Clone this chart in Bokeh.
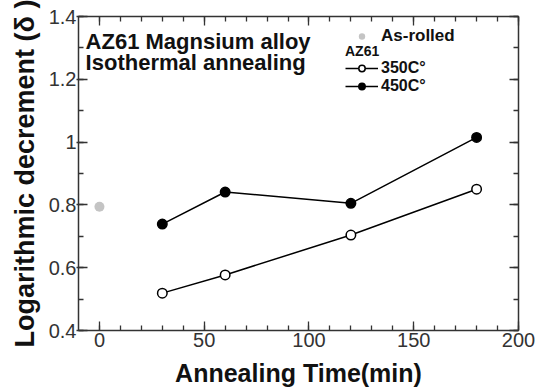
from bokeh.plotting import figure
from bokeh.models import (Range1d, LinearAxis, FixedTicker, NumeralTickFormatter,
                          Legend, LegendItem, Label, CustomLabelingPolicy)
from bokeh.embed import file_html
from bokeh.resources import INLINE

# ---- data ----
time_350 = [30, 60, 120, 180]
delta_350 = [0.519, 0.577, 0.704, 0.850]
time_450 = [30, 60, 120, 180]
delta_450 = [0.739, 0.841, 0.805, 1.015]
time_rolled = [0]
delta_rolled = [0.794]

x_major = [0, 50, 100, 150, 200]
x_minor = [0, 10, 20, 30, 40, 50, 60, 70, 80, 90, 100, 110, 120, 130, 140,
           150, 160, 170, 180, 190, 200]
y_major = [0.4, 0.6, 0.8, 1.0, 1.2, 1.4]
y_minor = [0.4, 0.5, 0.6, 0.7, 0.8, 0.9, 1.0, 1.1, 1.2, 1.3, 1.4]

FONT = "Liberation Sans"
FRAME = "#333333"

p = figure(width=544, height=389, x_range=Range1d(-10, 200), y_range=Range1d(0.4, 1.4),
           output_backend="svg", toolbar_location=None,
           min_border_left=78, min_border_right=26, min_border_top=16, min_border_bottom=58)
p.grid.visible = False
p.outline_line_color = None
p.background_fill_color = "white"
p.border_fill_color = "white"

hide_labels = CustomLabelingPolicy(code="""
const r = indices;
try { for (const i of [...r]) { r.unset(i) } } catch (e) { return [] }
return r;
""")


def style_axis(ax, major, minor, fmt, show_labels):
    ax.ticker = FixedTicker(ticks=major, minor_ticks=minor)
    ax.formatter = NumeralTickFormatter(format=fmt)
    ax.axis_line_color = FRAME
    ax.axis_line_width = 1.5
    ax.major_tick_line_color = FRAME
    ax.minor_tick_line_color = FRAME
    ax.major_tick_line_width = 1.3
    ax.minor_tick_line_width = 1.3
    ax.major_tick_in = 9
    ax.major_tick_out = 0
    ax.minor_tick_in = 5
    ax.minor_tick_out = 0
    if show_labels:
        ax.major_label_text_font = FONT
        ax.major_label_text_font_size = "20px"
        ax.major_label_text_color = "#333333"
        ax.axis_label_text_font = FONT
        ax.axis_label_text_font_style = "bold"
        ax.axis_label_text_color = "#111111"
    else:
        ax.major_label_policy = hide_labels
        ax.major_label_text_font_size = "1px"
        ax.major_label_standoff = 0
        ax.axis_label = None


xax = p.xaxis[0]
yax = p.yaxis[0]
style_axis(xax, x_major, x_minor, "0", True)
style_axis(yax, y_major, y_minor, "0.[0]", True)

xax.axis_label = "Annealing Time(min)"
xax.axis_label_text_font_size = "25px"
xax.major_label_standoff = 2
xax.axis_label_standoff = 9

yax.axis_label = "Logarithmic decrement (δ )"
yax.axis_label_text_font_size = "27px"
yax.major_tick_out = 2
yax.major_label_standoff = 0
yax.axis_label_standoff = 6

top_ax = LinearAxis()
style_axis(top_ax, x_major, x_minor, "0", False)
p.add_layout(top_ax, "above")
right_ax = LinearAxis()
style_axis(right_ax, y_major, y_minor, "0.[0]", False)
p.add_layout(right_ax, "right")

# ---- series ----
r350_line = p.line(time_350, delta_350, line_color="black", line_width=1.5)
r450_line = p.line(time_450, delta_450, line_color="black", line_width=1.5)
r350_pts = p.scatter(time_350, delta_350, marker="circle", size=9.5, fill_color="white",
                     line_color="black", line_width=1.5)
r450_pts = p.scatter(time_450, delta_450, marker="circle", size=9.5, fill_color="black",
                     line_color="black", line_width=1.5)
r_roll = p.scatter(time_rolled, delta_rolled, marker="circle", size=10,
                   fill_color="#c4c4c4", line_color=None)


def style_legend(leg, label_size):
    leg.border_line_color = None
    leg.background_fill_alpha = 0
    leg.padding = 0
    leg.margin = 0
    leg.spacing = 0
    leg.glyph_width = 33
    leg.glyph_height = 16
    leg.label_height = 16
    leg.label_standoff = 3
    leg.label_text_font = FONT
    leg.label_text_font_style = "bold"
    leg.label_text_font_size = label_size
    leg.label_text_color = "#111111"
    leg.title_text_font = FONT
    leg.title_text_font_style = "bold"
    leg.title_text_font_size = "14px"
    leg.title_text_color = "#111111"
    leg.title_standoff = -3


leg1 = Legend(items=[LegendItem(label="As-rolled", renderers=[r_roll])], location=(267, 284))
style_legend(leg1, "17px")
leg2 = Legend(items=[LegendItem(label="350C°", renderers=[r350_line, r350_pts]),
                     LegendItem(label="450C°", renderers=[r450_line, r450_pts])],
              title="AZ61", location=(267, 235))
style_legend(leg2, "16px")
p.add_layout(leg1)
p.add_layout(leg2)

for txt, yy in [("AZ61 Magnsium alloy", 1.3215), ("Isothermal annealing", 1.253)]:
    p.add_layout(Label(x=-6.6, y=yy, text=txt, text_font=FONT, text_font_style="bold",
                       text_font_size="22px", text_baseline="alphabetic", text_color="#111111"))

open("out.html", "w").write(file_html(p, INLINE))
